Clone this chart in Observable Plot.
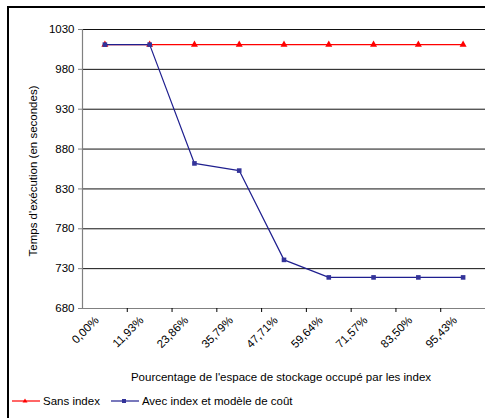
<!DOCTYPE html>
<html>
<head>
<meta charset="utf-8">
<script src="https://cdn.jsdelivr.net/npm/d3@7"></script>
<script src="https://cdn.jsdelivr.net/npm/@observablehq/plot@0.6"></script>
<style>
  html, body { margin: 0; padding: 0; background: #fff; overflow: hidden; width: 485px; height: 418px; }
  body { font-family: "Liberation Sans", Arial, sans-serif; position: relative; }
  #frame { position: absolute; left: 7px; top: 6px; width: 600px; height: 600px; border: 2px solid #000; }
  #chart { position: absolute; left: 0; top: 0; }
  #legend { position: absolute; left: 12px; top: 395px; font-size: 11.5px; color: #000; display: flex; align-items: center; white-space: nowrap; }
  #legend .item { display: flex; align-items: center; margin-right: 11px; }
  #legend svg { margin-right: 2px; }
</style>
</head>
<body>
<div id="frame"></div>
<div id="chart"></div>
<div id="legend"></div>
<script>
const categories = ["0,00%", "11,93%", "23,86%", "35,79%", "47,71%", "59,64%", "71,57%", "83,50%", "95,43%"];
const sansIndex = [1011, 1011, 1011, 1011, 1011, 1011, 1011, 1011, 1011];
const avecIndex = [1011, 1011, 862, 853, 741, 719, 719, 719, 719];
const yTicks = [680, 730, 780, 830, 880, 930, 980, 1030];
const seriesNames = ["Sans index", "Avec index et modèle de coût"];
const colors = { red: "#ff0000", navy: "#1f1f8f", square: "#333399" };

const idx = categories.map((_, i) => i);
const dataSans = idx.map(i => ({ i, v: sansIndex[i] }));
const dataAvec = idx.map(i => ({ i, v: avecIndex[i] }));
const boundaries = idx.slice(0, -1).map(i => i + 0.5);

const plot = Plot.plot({
  width: 485,
  height: 390,
  marginLeft: 82,
  marginRight: 0,
  marginTop: 29,
  marginBottom: 82,
  style: { fontFamily: "Liberation Sans, Arial, sans-serif", fontSize: "11.5px", color: "#000", background: "transparent", overflow: "visible" },
  x: { type: "linear", domain: [-0.5, categories.length - 0.5] },
  y: { domain: [680, 1030] },
  marks: [
    Plot.ruleY(yTicks.slice(1), { stroke: "#111", strokeWidth: 1 }),
    Plot.ruleY([680], { stroke: "#808080", strokeWidth: 1.2 }),
    Plot.ruleX([-0.5], { stroke: "#808080", strokeWidth: 1.2 }),
    Plot.axisY({ ticks: yTicks, tickSize: 4, tickPadding: 4, tickFormat: d => String(d), label: null, stroke: "#808080", fill: "#000" }),
    Plot.axisX({ ticks: boundaries, tickSize: 4, tickFormat: () => "", label: null, stroke: "#000" }),
    Plot.axisX({ ticks: idx, tickSize: 0, tickRotate: -45, tickPadding: 9, tickFormat: i => categories[i], label: null, dx: -8, dy: 1 }),
    Plot.text(["Pourcentage de l'espace de stockage occupé par les index"], { frameAnchor: "bottom", dy: 69, dx: -3, fontSize: 11.5, fill: "#000", lineAnchor: "middle" }),
    Plot.text(["Temps d'exécution (en secondes)"], { frameAnchor: "left", dx: -49, dy: 2, rotate: -90, fontSize: 11.5, fill: "#000", lineAnchor: "middle", textAnchor: "middle" }),
    Plot.line(dataSans, { x: "i", y: "v", stroke: colors.red, strokeWidth: 1.2 }),
    Plot.dot(dataSans, { x: "i", y: "v", symbol: "triangle", r: 2.6, fill: colors.red, stroke: "none" }),
    Plot.line(dataAvec, { x: "i", y: "v", stroke: colors.navy, strokeWidth: 1.2 }),
    Plot.dot(dataAvec, { x: "i", y: "v", symbol: "square", r: 2.6, fill: colors.square, stroke: "none" })
  ]
});
document.getElementById("chart").appendChild(plot);

// legend
const legend = document.getElementById("legend");
const swatches = [
  { name: seriesNames[0], color: colors.red, shape: "triangle" },
  { name: seriesNames[1], color: colors.navy, shape: "square" }
];
swatches.forEach(s => {
  const item = document.createElement("div");
  item.className = "item";
  const marker = s.shape === "triangle"
    ? `<path d="M13,2.5 L15.5,6.5 L10.5,6.5 Z" fill="${s.color}"/>`
    : `<rect x="11" y="3" width="4" height="4" fill="${colors.square}"/>`;
  item.innerHTML = `<svg width="29" height="10" viewBox="0 0 29 10"><line x1="0" x2="28" y1="5" y2="5" stroke="${s.color}" stroke-width="1.2"/>${marker}</svg><span>${s.name}</span>`;
  legend.appendChild(item);
});
</script>
</body>
</html>
